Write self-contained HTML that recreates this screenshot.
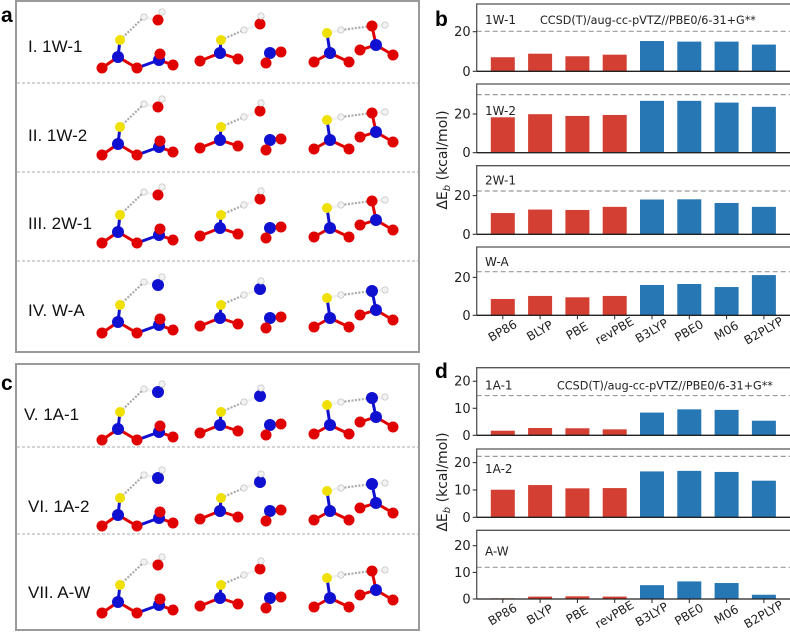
<!DOCTYPE html>
<html><head><meta charset="utf-8">
<style>
html,body{margin:0;padding:0;background:#fff;}
svg{display:block;font-family:"DejaVu Sans","Liberation Sans",sans-serif;}
</style></head>
<body>
<svg id="fig" width="790" height="637" viewBox="0 0 790 637" xmlns="http://www.w3.org/2000/svg">
  <g id="left">
    <text x="1" y="22" font-size="21" font-weight="bold" font-family="Liberation Sans, sans-serif">a</text>
    <rect x="16" y="1" width="403" height="351" fill="none" stroke="#9a9a9a" stroke-width="2"/>
    <text x="1" y="390" font-size="21" font-weight="bold" font-family="Liberation Sans, sans-serif">c</text>
    <rect x="16" y="364" width="403" height="266" fill="none" stroke="#9a9a9a" stroke-width="2"/>
    <g stroke="#aaa" stroke-width="1" stroke-dasharray="3,2">
      <line x1="17" x2="418" y1="83" y2="83"/><line x1="17" x2="418" y1="172" y2="172"/><line x1="17" x2="418" y1="261" y2="261"/>
      <line x1="17" x2="418" y1="447" y2="447"/><line x1="17" x2="418" y1="534" y2="534"/>
    </g>
    <g font-family="Liberation Sans, sans-serif" font-size="17" fill="#111">
      <text x="28" y="52">I. 1W-1</text>
      <text x="28" y="141">II. 1W-2</text>
      <text x="28" y="229">III. 2W-1</text>
      <text x="28" y="316">IV. W-A</text>
      <text x="24" y="420">V. 1A-1</text>
      <text x="28" y="512">VI. 1A-2</text>
      <text x="28" y="598">VII. A-W</text>
    </g>
    <g id="mols"></g>
  </g>
  <g id="charts">
    <text x="435" y="26" font-size="21" font-weight="bold" font-family="Liberation Sans, sans-serif">b</text>
    <text x="435" y="378" font-size="21" font-weight="bold" font-family="Liberation Sans, sans-serif">d</text>
  </g>
</svg>
<script>
const methods = ["BP86","BLYP","PBE","revPBE","B3LYP","PBE0","M06","B2PLYP"];
const bNames = ["1W-1","1W-2","2W-1","W-A"];
const bVals1W1 = [7.1,8.9,7.6,8.4,15.3,15.0,15.0,13.5];
const bVals1W2 = [18.3,19.9,19.0,19.5,26.8,26.8,25.9,23.7];
const bVals2W1 = [11.0,12.8,12.6,14.2,18.0,18.1,16.2,14.2];
const bValsWA = [8.6,10.2,9.5,10.2,16.0,16.5,14.9,21.2];
const bRef = [20.2,30.0,22.4,23.0];
const bTicks = [0,20];
const dNames = ["1A-1","1A-2","A-W"];
const dVals1A1 = [1.7,2.7,2.6,2.2,8.4,9.6,9.4,5.4];
const dVals1A2 = [10.1,11.8,10.6,10.7,16.8,17.0,16.6,13.4];
const dValsAW = [0.25,0.9,1.0,0.9,5.2,6.6,6.0,1.6];
const dRef = [14.7,22.3,11.9];
const dTicks = [0,10,20];

const NS="http://www.w3.org/2000/svg";
const charts=document.getElementById('charts');
function mk(tag,attrs,parent){const e=document.createElementNS(NS,tag);for(const k in attrs)e.setAttribute(k,attrs[k]);(parent||charts).appendChild(e);return e;}

const axL=476.7, axR=790, xMin=-0.7, xMax=7.7;
function xScale(i){return axL+(i-xMin)/(xMax-xMin)*(axR-axL);}
const barW=24;

function subplot(top,zero,ymax,vals,ref,name,ticks,showMethod,showX,key,titleOff){
  const g=mk('g',{});
  
  
  const ppu=(zero-top)/ymax;
  const y=v=>zero-v*ppu;
  vals.forEach((v,i)=>{
    const r=mk('rect',{x:xScale(i)-barW/2,y:y(v),width:barW,height:zero-y(v),fill:i<4?'#d33f33':'#2777b5'},g);
    
    
  });
  const dl=mk('line',{x1:axL,x2:axR,y1:y(ref),y2:y(ref),stroke:'#999','stroke-width':1.2,'stroke-dasharray':'5,3'},g);
  
  
  const fr=mk('path',{d:`M${axL},${zero}V${top}H${axR+2}`,fill:'none',stroke:'#555','stroke-width':1.3},g);
  
  
  const bl=mk('line',{x1:axL,x2:axR,y1:zero,y2:zero,stroke:'#222','stroke-width':1.3},g);
  
  
  ticks.forEach(t=>{
    mk('line',{x1:axL-4,x2:axL,y1:y(t),y2:y(t),stroke:'#222','stroke-width':1},g);
    const tl=mk('text',{x:axL-6,y:y(t)+4.5,'text-anchor':'end','font-size':13,fill:'#222'},g);
    tl.textContent=t;
    
    
  });
  const nl=mk('text',{x:485,y:top+titleOff,'font-size':12,fill:'#222'},g);
  nl.textContent=name;
  
  
  if(showMethod){
    const ml=mk('text',{x:showMethod,y:top+titleOff,'font-size':11.2,fill:'#222'},g);
    ml.textContent='CCSD(T)/aug-cc-pVTZ//PBE0/6-31+G**';
    
    
  }
  if(showX){
    methods.forEach((m,i)=>{
      const cx=xScale(i);
      mk('line',{x1:cx,x2:cx,y1:zero,y2:zero+4,stroke:'#222','stroke-width':1},g);
      const tx=mk('text',{x:cx,y:zero+16,'text-anchor':'middle','dominant-baseline':'middle','font-size':12,fill:'#222',transform:`rotate(-30 ${cx} ${zero+16})`},g);
      tx.textContent=m;
      
      
    });
  }
}
subplot(4,71.3,34,bVals1W1,bRef[0],bNames[0],bTicks,540,false,'1w-1',20);
subplot(84,152.7,35.5,bVals1W2,bRef[1],bNames[1],bTicks,0,false,'1w-2',31);
subplot(165.7,234.3,35.5,bVals2W1,bRef[2],bNames[2],bTicks,0,false,'2w-1',19);
subplot(247,315.3,36,bValsWA,bRef[3],bNames[3],bTicks,0,true,'w-a',19);
subplot(367.7,435.3,25,dVals1A1,dRef[0],dNames[0],dTicks,557,false,'1a-1',22);
subplot(449,517.3,25,dVals1A2,dRef[1],dNames[1],dTicks,0,false,'1a-2',24);
subplot(530.3,599,25.8,dValsAW,dRef[2],dNames[2],dTicks,0,true,'a-w',25);

function ylab(cy,key){
  const t=mk('text',{x:447,y:cy,'text-anchor':'middle','font-size':14,fill:'#222',transform:`rotate(-90 447 ${cy})`});
  t.innerHTML='ΔE<tspan font-size="10" dy="3" font-style="italic">b</tspan><tspan dy="-3"> (kcal/mol)</tspan>';
  
  
}
ylab(160,'b'); ylab(482,'d');

const mols=document.getElementById('mols');
const col={O:'#e00000',N:'#1010d0',Y:'#f0e000',H:'#f2f2f2'};
const rad={O:5.5,N:6,Y:5,H:3.2};
const tpl=[
 {a:[[120,40,'Y'],[118,57,'N'],[102,68,'O'],[137,68,'O'],[159,60,'N'],[160,54,'O'],[173,65,'O'],[158,20,'X'],[144,17,'H'],[162,12,'H']],
  b:[[0,1],[1,2],[1,3],[3,4],[4,5],[4,6],[7,8],[7,9]],h:[[0,8]]},
 {a:[[221,40,'Y'],[220,53,'N'],[200,61,'O'],[238,59,'O'],[270,53,'N'],[281,52,'O'],[266,63,'O'],[260,24,'X'],[244,30,'H'],[261,16,'H']],
  b:[[0,1],[1,2],[1,3],[4,5],[4,6],[7,8],[7,9]],h:[[0,8]]},
 {a:[[327,33,'Y'],[330,53,'N'],[314,62,'O'],[349,62,'O'],[341,30,'H'],[376,45,'N'],[360,50,'O'],[393,55,'O'],[372,26,'X'],[385,25,'H']],
  b:[[0,1],[1,2],[1,3],[0,4],[5,6],[5,7],[5,8],[8,9]],h:[[4,8]]}
];
const rows=[[0,'O'],[87,'O'],[175,'O'],[265,'N'],[372,'N'],[458,'N'],[545,'O']];
rows.forEach((r,ri)=>{
  const [dy,top]=r;
  tpl.forEach((t,ci)=>{
    const g=document.createElementNS(NS,'g');
    
    
    mols.appendChild(g);
    const P=t.a.map(a=>[a[0],a[1]+dy,a[2]==='X'?top:a[2]]);
    t.h.forEach(([i,j])=>mk('line',{x1:P[i][0],y1:P[i][1],x2:P[j][0],y2:P[j][1],stroke:'#aaa','stroke-width':2.2,'stroke-dasharray':'2,1.5'},g));
    t.b.forEach(([i,j])=>mk('line',{x1:P[i][0],y1:P[i][1],x2:P[j][0],y2:P[j][1],stroke:col[P[i][2]]==='#f2f2f2'?'#ccc':col[P[j][2]],'stroke-width':3},g));
    P.forEach(p=>mk('circle',{cx:p[0],cy:p[1],r:rad[p[2]],fill:col[p[2]],stroke:p[2]==='H'?'#bbb':'none','stroke-width':0.6},g));
  });
});
</script>
</body></html>
